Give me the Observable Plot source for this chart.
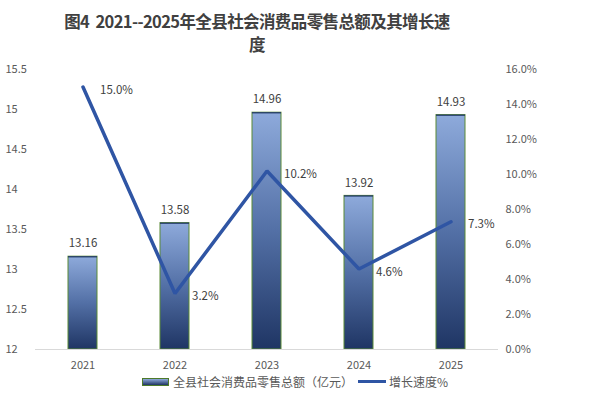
<!DOCTYPE html>
<html><head><meta charset="utf-8">
<script src="https://cdn.jsdelivr.net/npm/d3@7"></script>
<script src="https://cdn.jsdelivr.net/npm/@observablehq/plot@0.6"></script>
<style>
body{margin:0;background:#fff;font-family:"Noto Sans CJK SC","Noto Sans",sans-serif;}
#wrap{position:relative;width:590px;height:402px;overflow:hidden;}
#title{position:absolute;left:-38px;top:10px;width:590px;text-align:center;font-weight:bold;font-size:16.5px;line-height:23px;color:#404040;letter-spacing:-0.6px;word-spacing:3px;}
#legend{position:absolute;left:0;top:373px;width:590px;display:flex;justify-content:center;align-items:center;font-size:12px;color:#595959;}
.sw{display:inline-block;width:25px;height:6px;background:linear-gradient(#8eaadb,#1f3564);border:1px solid #4e7a2a;margin-right:4px;}
.ln{display:inline-block;width:28px;height:3px;background:#2f55a4;margin:0 3px 0 5px;}
#chart{position:absolute;left:0;top:0;}
</style></head>
<body>
<div id="wrap">
<div id="chart"></div>
<div id="title">图4 2021--2025年全县社会消费品零售总额及其增长速<br>度</div>
<div id="legend"><span class="sw"></span><span>全县社会消费品零售总额（亿元）</span><span class="ln"></span><span>增长速度%</span></div>
</div>
<script>
const years = ["2021","2022","2023","2024","2025"];
const sales = [13.16, 13.58, 14.96, 13.92, 14.93];
const growth = [15.0, 3.2, 10.2, 4.6, 7.3];
const leftTicks = [12, 12.5, 13, 13.5, 14, 14.5, 15, 15.5];
const rightTicks = [0, 2, 4, 6, 8, 10, 12, 14, 16];

const Y0 = 12, Y1 = 15.5, G1 = 16;
const g2y = g => Y0 + g * (Y1 - Y0) / G1;
const data = years.map((y, i) => ({year: y, sales: sales[i], growth: growth[i]}));

const defs = () => {
  const ns = "http://www.w3.org/2000/svg";
  const d = document.createElementNS(ns, "defs");
  const lg = document.createElementNS(ns, "linearGradient");
  lg.setAttribute("id", "barGrad");
  lg.setAttribute("x1", "0"); lg.setAttribute("y1", "0");
  lg.setAttribute("x2", "0"); lg.setAttribute("y2", "1");
  [["0%", "#8eaadb"], ["50%", "#5370a6"], ["100%", "#1f3564"]].forEach(([o, c]) => {
    const s = document.createElementNS(ns, "stop");
    s.setAttribute("offset", o); s.setAttribute("stop-color", c);
    lg.appendChild(s);
  });
  d.appendChild(lg);
  return d;
};

const chart = Plot.plot({
  width: 590, height: 402,
  marginTop: 69, marginBottom: 53, marginLeft: 35, marginRight: 92,
  style: {fontFamily: '"Noto Sans CJK SC","Noto Sans",sans-serif', fontSize: "11px", color: "#595959", background: "transparent"},
  x: {domain: years, paddingInner: 0.69, paddingOuter: 0.345, label: null},
  y: {domain: [Y0, Y1], label: null},
  marks: [
    defs,
    Plot.axisY(leftTicks, {anchor: "left", tickSize: 0, tickPadding: 0, dx: -30, textAnchor: "start", label: null, fontSize: 11, fill: "#595959", tickFormat: d => String(d)}),
    Plot.axisY(rightTicks.map(g2y), {anchor: "right", tickSize: 0, tickPadding: 7, textAnchor: "start", label: null, fontSize: 11, fill: "#595959", tickFormat: v => ((v - Y0) / (Y1 - Y0) * G1).toFixed(1) + "%"}),
    Plot.axisX({tickSize: 0, tickPadding: 12, label: null, fontSize: 11, fill: "#595959"}),
    Plot.barY(data, {x: "year", y1: Y0, y2: "sales", fill: "url(#barGrad)", stroke: "#5b8a36", strokeWidth: 1}),
    Plot.barY(data, {x: "year", y1: d => d.sales - 0.015, y2: "sales", fill: "#1f3564"}),
    Plot.ruleY([Y0], {stroke: "#d9d9d9", strokeWidth: 1}),
    Plot.line(data, {x: "year", y: d => g2y(d.growth), stroke: "#2f55a4", strokeWidth: 3.5, strokeLinejoin: "miter"}),
    Plot.text(data, {x: "year", y: "sales", text: d => d.sales.toFixed(2), dy: -13, fontSize: 11.5, fill: "#404040"}),
    Plot.text(data, {x: "year", y: d => g2y(d.growth), text: d => d.growth.toFixed(1) + "%", dx: 17, dy: 3, textAnchor: "start", fontSize: 11.5, fill: "#404040"})
  ]
});
document.getElementById("chart").appendChild(chart);
</script>
</body></html>
